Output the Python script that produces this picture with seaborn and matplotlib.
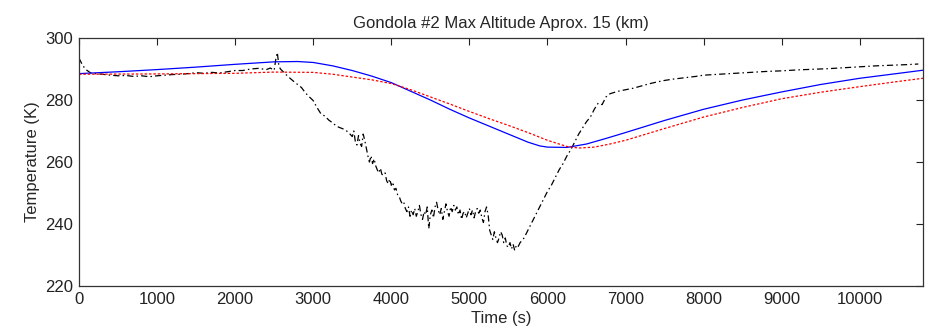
import numpy as np
import pandas as pd
import matplotlib
matplotlib.use("Agg")
import matplotlib.pyplot as plt
import seaborn as sns

# измеренная температура (черная штрих-пунктирная)
meas_time = [0, 50, 100, 150, 200, 300, 400, 500, 600, 700, 800, 900, 1000,
             1100, 1200, 1300, 1400, 1500, 1600, 1700, 1800, 1900, 2000,
             2100, 2200, 2300, 2400, 2450, 2500, 2520, 2540, 2560, 2580,
             2620, 2680, 2750, 2800, 2850, 2900, 2950, 3000, 3050, 3100,
             3150, 3200, 3250, 3300, 3350, 3400, 3450, 3500, 3520, 3540,
             3560, 3580, 3600, 3620, 3640, 3660, 3680, 3700, 3720, 3740,
             3760, 3780, 3800, 3820, 3840, 3860, 3880, 3900, 3920, 3940,
             3960, 3980, 4000, 4020, 4040, 4060, 4080, 4100, 4120, 4140,
             4160, 4180, 4200, 4220, 4240, 4260, 4280, 4300, 4320, 4340,
             4360, 4380, 4400, 4420, 4440, 4460, 4480, 4500, 4520, 4540,
             4560, 4580, 4600, 4620, 4640, 4660, 4680, 4700, 4720, 4740,
             4760, 4780, 4800, 4820, 4840, 4860, 4880, 4900, 4920, 4940,
             4960, 4980, 5000, 5020, 5040, 5060, 5080, 5100, 5120, 5140,
             5160, 5180, 5200, 5220, 5240, 5260, 5280, 5300, 5320, 5340,
             5360, 5380, 5400, 5420, 5440, 5460, 5480, 5500, 5520, 5540,
             5560, 5580, 5600, 5620, 5650, 5700, 5750, 5800, 5850, 5900,
             5950, 6000, 6050, 6100, 6150, 6200, 6250, 6300, 6350, 6400,
             6450, 6500, 6550, 6600, 6650, 6700, 6750, 6800, 6900, 7000,
             7100, 7200, 7300, 7400, 7500, 7600, 7700, 7800, 7900, 8000,
             8200, 8400, 8600, 8800, 9000, 9200, 9400, 9600, 9800, 10000,
             10200, 10400, 10600, 10750]
meas_temp = [293.5, 291.0, 289.6, 288.7, 288.5, 288.3, 288.0, 287.8, 287.9,
             287.6, 287.8, 287.5, 287.8, 288.0, 288.2, 288.3, 288.5, 288.8,
             288.6, 288.9, 288.7, 289.1, 289.5, 289.5, 290.0, 290.2, 289.8,
             290.3, 289.6, 293.0, 295.3, 291.0, 290.0, 289.0, 287.5, 286.0,
             285.0, 284.0, 282.3, 281.0, 279.8, 277.5, 275.5, 274.8, 273.5,
             272.6, 271.5, 271.0, 270.5, 269.6, 268.2, 270.0, 266.5, 265.5,
             268.5, 266.0, 265.0, 269.0, 267.0, 264.5, 262.0, 260.0, 262.0,
             259.5, 261.0, 258.8, 257.5, 256.5, 258.0, 256.0, 255.8, 256.5,
             254.0, 253.0, 254.5, 252.5, 253.5, 251.0, 251.5, 249.5, 249.0,
             247.5, 246.5, 247.0, 245.0, 244.0, 245.5, 242.5, 244.5, 243.0,
             245.0, 242.5, 244.0, 246.0, 243.0, 241.5, 244.0, 243.0, 245.5,
             238.5, 243.0, 244.5, 242.0, 245.5, 247.0, 244.5, 243.0, 245.0,
             241.5, 244.0, 246.5, 244.0, 242.5, 245.5, 244.0, 246.0, 244.5,
             245.5, 243.0, 244.5, 241.5, 243.5, 244.0, 242.0, 243.5, 245.0,
             243.0, 244.5, 242.0, 244.0, 245.0, 243.5, 244.5, 242.0, 240.5,
             244.0, 245.5, 243.0, 238.0, 236.5, 235.0, 237.5, 235.5, 234.0,
             235.5, 237.5, 236.5, 234.0, 235.5, 233.0, 232.5, 234.0, 232.0,
             233.5, 231.5, 233.0, 232.5, 234.0, 235.5, 238.0, 240.5, 243.0,
             245.5, 248.0, 250.5, 252.5, 255.0, 257.5, 259.5, 262.0, 264.0,
             266.5, 269.0, 271.0, 273.0, 274.5, 277.0, 279.0, 278.5, 281.0,
             282.0, 282.8, 283.3, 283.8, 284.5, 285.2, 285.8, 286.3, 286.7,
             287.0, 287.3, 287.6, 288.0, 288.3, 288.6, 288.9, 289.2, 289.4,
             289.7, 289.9, 290.1, 290.4, 290.7, 291.0, 291.2, 291.4, 291.6]

# модель 1 (синяя сплошная)
blue_time = [0, 500, 1000, 1500, 2000, 2500, 2800, 3000, 3250, 3500, 3750,
             4000, 4250, 4500, 4750, 5000, 5250, 5500, 5750, 5900, 6000, 6250,
             6500, 6750, 7000, 7500, 8000, 8500, 9000, 9500, 10000, 10500, 10810]
blue_temp = [288.5, 289.1, 289.8, 290.6, 291.5, 292.3, 292.4, 292.1, 291.0,
             289.5, 287.7, 285.6, 282.8, 280.0, 277.0, 274.2, 271.6, 269.0,
             266.4, 265.2, 264.8, 264.7, 265.8, 267.6, 269.5, 273.4, 277.0,
             280.0, 282.6, 285.0, 287.0, 288.6, 289.6]

# модель 2 (красная пунктирная)
red_time = [0, 1000, 2000, 2500, 3000, 3250, 3500, 3750, 4000, 4250, 4500,
            4750, 5000, 5250, 5500, 5750, 6000, 6250, 6400, 6600, 6800, 7000,
            7500, 8000, 8500, 9000, 9500, 10000, 10500, 10810]
red_temp = [288.3, 288.4, 288.6, 289.0, 288.9, 288.3, 287.4, 286.5, 285.3,
            283.3, 281.0, 278.7, 276.3, 274.0, 271.8, 269.5, 267.0, 265.0,
            264.5, 264.8, 265.8, 267.0, 270.8, 274.5, 277.6, 280.4, 282.5,
            284.3, 286.0, 287.0]

sns.set_style("white")
plt.rcParams['font.family'] = ['Liberation Sans', 'DejaVu Sans']

fig = plt.figure(figsize=(9.27, 3.33), dpi=100)
ax = fig.add_axes([0.0852, 0.141, 0.9105, 0.745])

sns.lineplot(x=meas_time, y=meas_temp, ax=ax, color='black', lw=0.9, sort=False)
ax.lines[-1].set_dashes([5, 2.5, 1.2, 2.5])
sns.lineplot(x=blue_time, y=blue_temp, ax=ax, color='blue', lw=0.9)
sns.lineplot(x=red_time, y=red_temp, ax=ax, color='red', lw=0.9)
ax.lines[-1].set_dashes([2, 1.5])

ax.set_xlim(0, 10810)
ax.set_ylim(220, 300)
ax.set_xticks(np.arange(0, 10001, 1000))
ax.set_yticks(np.arange(220, 301, 20))
ax.tick_params(direction='in', top=True, right=True, length=5, width=0.8,
               labelsize=12, colors='#222222', pad=4)
for s in ax.spines.values():
    s.set_color('#333333')
    s.set_linewidth(0.9)

ax.set_xlabel('Time (s)', fontsize=12, labelpad=3)
ax.set_ylabel('Temperature (K)', fontsize=12, labelpad=4)
ax.set_title('Gondola #2 Max Altitude Aprox. 15 (km)', fontsize=12, pad=7)

fig.savefig('out.png', dpi=100)
